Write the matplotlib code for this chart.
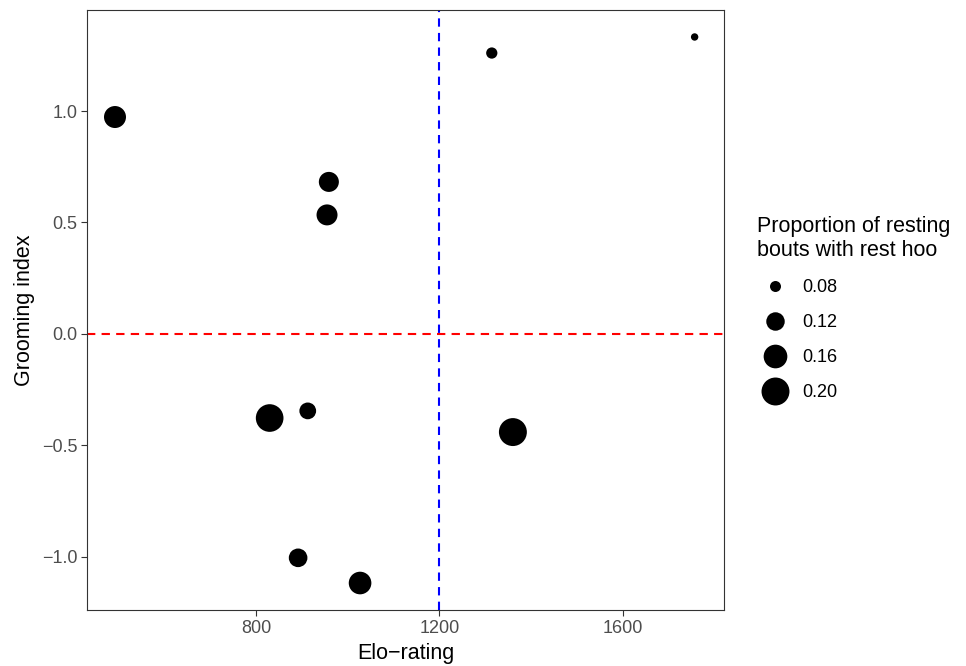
import matplotlib
matplotlib.use("Agg")
import matplotlib.pyplot as plt
from matplotlib.lines import Line2D
import numpy as np

plt.rcParams['font.family'] = ['Liberation Sans', 'DejaVu Sans']

elo = [493, 1314, 1756, 959, 955, 830, 913, 1360, 892, 1027]
grooming = [0.973, 1.26, 1.332, 0.682, 0.534, -0.377, -0.345, -0.44, -1.004, -1.117]
prop_resthoo = [0.146, 0.081, 0.068, 0.131, 0.138, 0.197, 0.109, 0.200, 0.121, 0.151]
legend_breaks = [0.08, 0.12, 0.16, 0.20]
legend_labels = ["0.08", "0.12", "0.16", "0.20"]
x_ticks = [800, 1200, 1600]
y_ticks = [-1.0, -0.5, 0.0, 0.5, 1.0]
y_ticklabels = ["\u22121.0", "\u22120.5", "0.0", "0.5", "1.0"]

def diam_px(v):
    return np.sqrt(np.maximum(121 + (np.asarray(v) - 0.08) * 5500, 4))

def area_pt2(v):
    return (diam_px(v) * 0.72) ** 2

fig = plt.figure(figsize=(9.66, 6.66), dpi=100)
ax = fig.add_axes([87/966, 1-610/666, (724-87)/966, (610-10)/666])

ax.axhline(0, color='#FF0000', lw=1.5, ls=(0, (4, 3)), zorder=1)
ax.axvline(1200, color='#0000FF', lw=1.5, ls=(0, (4, 3)), zorder=1)
ax.scatter(elo, grooming, s=area_pt2(prop_resthoo), color='black', edgecolors='none', zorder=3)

ax.set_xlim(432, 1820)
ax.set_ylim(-1.238, 1.453)
ax.set_xticks(x_ticks)
ax.set_xticklabels([str(t) for t in x_ticks])
ax.set_yticks(y_ticks)
ax.set_yticklabels(y_ticklabels)
ax.tick_params(axis='both', colors='#333333', labelcolor='#4D4D4D', labelsize=13, length=4, width=0.8, pad=3)
for sp in ax.spines.values():
    sp.set_color('#333333')
    sp.set_linewidth(0.8)
ax.set_xlabel("Elo\u2212rating", fontsize=15.5, labelpad=4.5)
ax.set_ylabel("Grooming index", fontsize=15.5, labelpad=5)

handles = [Line2D([], [], marker='o', ls='none', color='black', markeredgewidth=0,
                  markersize=diam_px(b) * 0.72) for b in legend_breaks]
leg = ax.legend(handles, legend_labels, title="Proportion of resting\nbouts with rest hoo",
                loc='upper left', bbox_to_anchor=(757/966, 1-216/666), bbox_transform=fig.transFigure,
                frameon=False, fontsize=13, title_fontsize=15.5, labelspacing=1.0,
                handletextpad=0.5, borderpad=0, borderaxespad=0, handlelength=2.0)
leg._legend_box.align = "left"

fig.savefig("out.png", dpi=100)
